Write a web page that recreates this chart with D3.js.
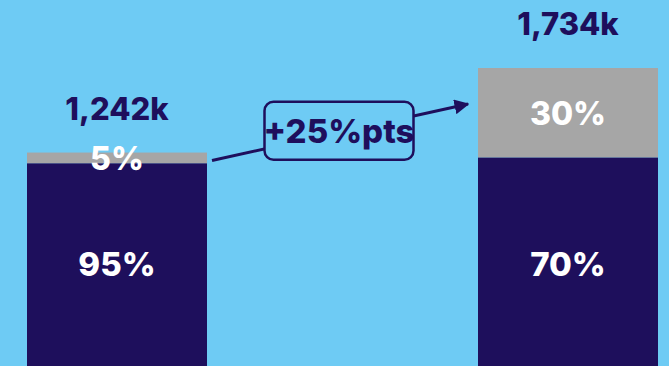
<!DOCTYPE html>
<html>
<head>
<meta charset="utf-8">
<script src="https://cdn.jsdelivr.net/npm/d3@7"></script>
<style>
  html, body { margin: 0; padding: 0; background: #6ECBF4; }
  svg { display: block; }
  text { font-family: Inter, "DejaVu Sans", sans-serif; font-weight: 800; }
</style>
</head>
<body>
<svg id="chart" width="669" height="366"></svg>
<script>
// Two periods, total volume (thousands) and split into core / other shares
const categories = ["Before", "After"];
const totals = [1242, 1734];
const coreShare = [95, 70];
const otherShare = [5, 30];
const totalLabels = ["1,242k", "1,734k"];
const changeLabel = "+25%pts";

const W = 669, H = 366;
const navy = "#1E0F5C", grey = "#A6A6A6", bg = "#6ECBF4";

const svg = d3.select("#chart");
svg.append("rect").attr("width", W).attr("height", H).attr("fill", bg);

const x = d3.scaleBand().domain(categories).range([27, 658]).paddingInner(1 - 180 / 451).paddingOuter(0);
const y = d3.scaleLinear().domain([0, d3.max(totals)]).range([H, 68]);

const rows = categories.map((c, i) => ({
  cat: c, total: totals[i], core: totals[i] * coreShare[i] / 100,
  coreShare: coreShare[i], otherShare: otherShare[i], label: totalLabels[i]
}));

const g = svg.append("g");

// core segment
g.selectAll(".core").data(rows).join("rect")
  .attr("x", d => x(d.cat)).attr("width", x.bandwidth())
  .attr("y", d => y(d.core)).attr("height", d => y(0) - y(d.core))
  .attr("fill", navy);

// other segment on top
g.selectAll(".other").data(rows).join("rect")
  .attr("x", d => x(d.cat)).attr("width", x.bandwidth())
  .attr("y", d => y(d.total)).attr("height", d => y(d.core) - y(d.total))
  .attr("fill", grey);

// total labels above the bars
g.selectAll(".total").data(rows).join("text")
  .attr("x", d => x(d.cat) + x.bandwidth() / 2)
  .attr("y", d => y(d.total) - 33)
  .attr("text-anchor", "middle").attr("font-size", 31).attr("fill", navy)
  .text(d => d.label);

// share labels
g.selectAll(".coreLbl").data(rows).join("text")
  .attr("x", d => x(d.cat) + x.bandwidth() / 2)
  .attr("y", 276)
  .attr("text-anchor", "middle").attr("font-size", 33).attr("fill", "#fff")
  .text(d => d.coreShare + "%");

g.selectAll(".otherLbl").data(rows).join("text")
  .attr("x", d => x(d.cat) + x.bandwidth() / 2)
  .attr("y", d => (y(d.total) + y(d.core)) / 2 + 12)
  .attr("text-anchor", "middle").attr("font-size", 32).attr("fill", "#fff")
  .text(d => d.otherShare + "%");

// change arrow between the bars
const x0 = x(categories[0]) + x.bandwidth() + 5, y0 = y(totals[0]) + 8;
const x1 = x(categories[1]) - 10, y1 = y(totals[1]) + 36;

svg.append("defs").append("marker")
  .attr("id", "head").attr("viewBox", "0 0 10 10")
  .attr("refX", 9).attr("refY", 5)
  .attr("markerWidth", 5).attr("markerHeight", 5)
  .attr("markerUnits", "strokeWidth").attr("orient", "auto")
  .append("path").attr("d", "M0,0 L10,5 L0,10 z").attr("fill", navy);

svg.append("line")
  .attr("x1", x0).attr("y1", y0).attr("x2", x1).attr("y2", y1)
  .attr("stroke", navy).attr("stroke-width", 3)
  .attr("marker-end", "url(#head)");

const mx = (x0 + x1) / 2, my = (y0 + y1) / 2;
const bw = 149, bh = 58;
svg.append("rect")
  .attr("x", mx - bw / 2 - 1).attr("y", my - bh / 2 - 1.5)
  .attr("width", bw).attr("height", bh).attr("rx", 9)
  .attr("fill", bg).attr("stroke", navy).attr("stroke-width", 2.5);

svg.append("text")
  .attr("x", mx - 1).attr("y", my + 11)
  .attr("text-anchor", "middle").attr("font-size", 33).attr("fill", navy)
  .text(changeLabel);
</script>
</body>
</html>
